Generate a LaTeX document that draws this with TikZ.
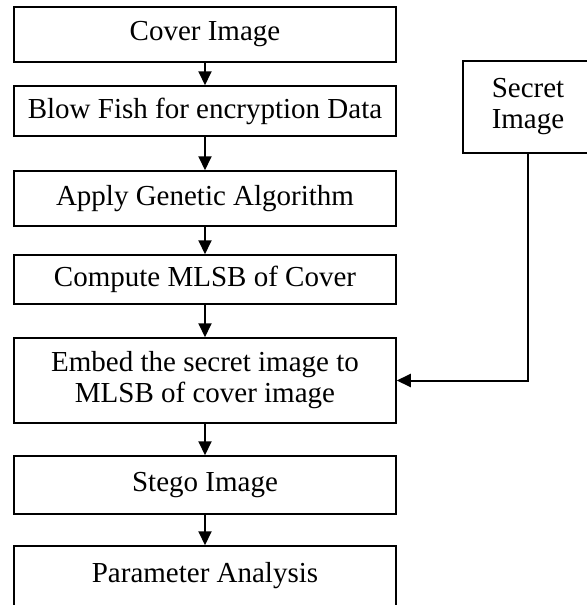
\documentclass[tikz,border=0pt]{standalone}
\usepackage{fontspec}
\setmainfont{Liberation Serif}
\usetikzlibrary{arrows.meta}

\begin{document}
\begin{tikzpicture} [x=0.5pt, y=-0.5pt,
  box/.style={draw=black, line width=0.75pt, minimum width=191pt, inner sep=0pt,
    align=center, font=\fontsize{14.5}{15.5}\selectfont},
  flow/.style={black, line width=1pt, -{Triangle[length=7pt,width=6.5pt]}}]

\clip (0,0) rectangle (587,605);

\node[box, minimum height=27.5pt] (cover) at (205,34.5) {Cover Image};
\node[box, minimum height=25pt] (blowfish) at (205,111) {Blow Fish for encryption Data};
\node[box, minimum height=27.5pt] (genetic) at (205,198.5) {Apply Genetic Algorithm};
\node[box, minimum height=24.5pt] (mlsb) at (205,279.5) {Compute MLSB of Cover};
\node[box, minimum height=42.5pt] (embed) at (205,380.5) {Embed the secret image to\\MLSB of cover image};
\node[box, minimum height=29pt] (stego) at (205,485) {Stego Image};
\node[box, minimum height=30pt] (param) at (205,576) {Parameter Analysis};
\node[box, minimum width=65pt, minimum height=46pt] (secret) at (528,107) {Secret\\Image};

\draw[flow] (cover) -- (blowfish);
\draw[flow] (blowfish) -- (genetic);
\draw[flow] (genetic) -- (mlsb);
\draw[flow] (mlsb) -- (embed);
\draw[flow] (embed) -- (stego);
\draw[flow] (stego) -- (param);
\draw[flow] (secret.south) |- (embed.east);

\end{tikzpicture}
\end{document}
